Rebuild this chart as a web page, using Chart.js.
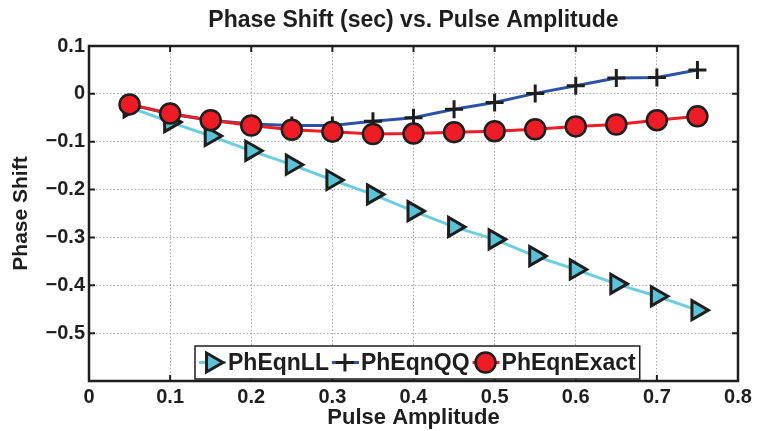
<!DOCTYPE html>
<html>
<head>
<meta charset="utf-8">
<script src="https://cdn.jsdelivr.net/npm/chart.js@4.4.1/dist/chart.umd.min.js"></script>
<style>
    html, body { margin: 0; padding: 0; background: #fff; }
    #wrap { width: 763px; height: 431px; }
</style>
</head>
<body>
<div id="wrap"><canvas id="phaseChart" width="763" height="431"></canvas></div>
<script>
// values
const amplitude = [0.05, 0.1, 0.15, 0.2, 0.25, 0.3, 0.35, 0.4, 0.45, 0.5, 0.55, 0.6, 0.65, 0.7, 0.75];
const phEqnLL = [-0.028, -0.059, -0.088, -0.119, -0.148, -0.180, -0.210, -0.245, -0.278, -0.304, -0.339, -0.367, -0.397, -0.423, -0.452];
const phEqnQQ = [-0.022, -0.042, -0.055, -0.063, -0.066, -0.066, -0.057, -0.050, -0.032, -0.018, 0.001, 0.017, 0.033, 0.034, 0.050];
const phEqnExact = [-0.022, -0.041, -0.055, -0.066, -0.075, -0.079, -0.084, -0.083, -0.080, -0.078, -0.074, -0.068, -0.064, -0.055, -0.047];
const legendLabels = ['PhEqnLL', 'PhEqnQQ', 'PhEqnExact'];
const xTickValues = [0, 0.1, 0.2, 0.3, 0.4, 0.5, 0.6, 0.7, 0.8];
const yTickValues = [0.1, 0, -0.1, -0.2, -0.3, -0.4, -0.5, -0.6];
const chartTitle = 'Phase Shift (sec) vs. Pulse Amplitude';

const FONT = '"Liberation Sans", Arial, sans-serif';
const INK = '#1e1e1e';

function toPoints(values) {
    return amplitude.map((a, i) => ({ x: a, y: values[i] }));
}

function fmtTick(v) {
    const r = Math.round(v * 10) / 10;
    if (r === 0) return '0';
    return (r < 0 ? '\u2212' : '') + Math.abs(r).toFixed(1);
}

// marker shapes for the legend
function drawMarker(ctx, style, x, y, ds) {
    ctx.save();
    ctx.lineWidth = ds.pointBorderWidth;
    ctx.strokeStyle = ds.pointBorderColor;
    ctx.fillStyle = ds.pointBackgroundColor || ds.pointBorderColor;
    const r = ds.pointRadius;
    ctx.beginPath();
    if (style === 'triangle') {
        ctx.moveTo(x + r, y);
        ctx.lineTo(x - r / 2, y - r * Math.sqrt(3) / 2);
        ctx.lineTo(x - r / 2, y + r * Math.sqrt(3) / 2);
        ctx.closePath();
        ctx.fill();
        ctx.stroke();
    } else if (style === 'cross') {
        ctx.moveTo(x - r, y); ctx.lineTo(x + r, y);
        ctx.moveTo(x, y - r); ctx.lineTo(x, y + r);
        ctx.stroke();
    } else {
        ctx.arc(x, y, r, 0, Math.PI * 2);
        ctx.fill();
        ctx.stroke();
    }
    ctx.restore();
}

const framePlugin = {
    id: 'frame',
    afterDatasetsDraw(chart) {
        const { ctx, chartArea: a, scales } = chart;
        ctx.save();
        ctx.strokeStyle = INK;
        ctx.lineWidth = 2;
        ctx.beginPath();
        xTickValues.forEach(v => {
            const px = scales.x.getPixelForValue(v);
            ctx.moveTo(px, a.bottom); ctx.lineTo(px, a.bottom - 6);
            ctx.moveTo(px, a.top); ctx.lineTo(px, a.top + 6);
        });
        yTickValues.forEach(v => {
            const py = scales.y.getPixelForValue(v);
            ctx.moveTo(a.left, py); ctx.lineTo(a.left + 6, py);
            ctx.moveTo(a.right, py); ctx.lineTo(a.right - 6, py);
        });
        ctx.stroke();
        ctx.lineWidth = 2.5;
        ctx.strokeRect(a.left, a.top, a.right - a.left, a.bottom - a.top);
        ctx.restore();
    },
    afterDraw(chart) {
        const ctx = chart.ctx;
        const a = chart.chartArea;
        const sets = chart.data.datasets;

        // title, centred over the plot area
        ctx.save();
        ctx.font = 'bold 23px ' + FONT;
        ctx.fillStyle = INK;
        ctx.textAlign = 'center';
        ctx.textBaseline = 'alphabetic';
        ctx.fillText(chartTitle, (a.left + a.right) / 2, 27);
        ctx.restore();

        // legend box inside the plot
        const top = 346, bottom = 379, midY = (top + bottom) / 2;
        const left = 195;
        ctx.save();
        ctx.font = 'bold 23px ' + FONT;
        let x = left + 4;
        const items = [];
        legendLabels.forEach((label, i) => {
            items.push({ x: x, label: label, ds: sets[i] });
            x += 29 + ctx.measureText(label).width + 3;
        });
        const right = x + 1;
        ctx.fillStyle = '#fff';
        ctx.fillRect(left, top, right - left, bottom - top);
        ctx.strokeStyle = INK;
        ctx.lineWidth = 1.5;
        ctx.strokeRect(left, top, right - left, bottom - top);
        items.forEach(it => {
            ctx.strokeStyle = it.ds.borderColor;
            ctx.lineWidth = it.ds.borderWidth;
            ctx.beginPath();
            ctx.moveTo(it.x, midY); ctx.lineTo(it.x + 27, midY);
            ctx.stroke();
            drawMarker(ctx, it.ds.pointStyle, it.x + 13, midY, it.ds);
            ctx.fillStyle = INK;
            ctx.textBaseline = 'middle';
            ctx.textAlign = 'left';
            ctx.fillText(it.label, it.x + 29, midY + 1);
        });
        ctx.restore();
    }
};

const phaseCtx = document.getElementById('phaseChart');
const phaseChart = new Chart(phaseCtx, {
    type: 'line',
    data: {
        datasets: [{
            label: legendLabels[0],
            data: toPoints(phEqnLL),
            borderColor: '#6dcde0',
            borderWidth: 3,
            pointStyle: 'triangle',
            pointRotation: 90,
            pointRadius: 11,
            pointBackgroundColor: '#5bc3d7',
            pointBorderColor: INK,
            pointBorderWidth: 3,
            order: 2
        }, {
            label: legendLabels[1],
            data: toPoints(phEqnQQ),
            borderColor: '#2b52a6',
            borderWidth: 3,
            pointStyle: 'cross',
            pointRadius: 9,
            pointBorderColor: INK,
            pointBorderWidth: 3,
            order: 1
        }, {
            label: legendLabels[2],
            data: toPoints(phEqnExact),
            borderColor: '#ee1c25',
            borderWidth: 3,
            pointStyle: 'circle',
            pointRadius: 10,
            pointBackgroundColor: '#ee1c25',
            pointBorderColor: INK,
            pointBorderWidth: 2.5,
            order: 0
        }]
    },
    options: {
        responsive: false,
        animation: false,
        events: [],
        clip: false,
        layout: { padding: { left: 0, right: 25, top: 46, bottom: 0 } },
        plugins: {
            legend: { display: false },
            tooltip: { enabled: false },
            title: { display: false }
        },
        scales: {
            x: {
                type: 'linear',
                min: 0,
                max: 0.8,
                afterBuildTicks: s => { s.ticks = xTickValues.map(v => ({ value: v })); },
                afterFit: s => { s.height = 50; },
                ticks: {
                    color: INK,
                    padding: 4,
                    maxRotation: 0,
                    font: { family: FONT, size: 20, weight: 'bold' },
                    callback: v => fmtTick(v)
                },
                grid: { color: '#a8a8a8', lineWidth: 1, drawTicks: false },
                border: { display: false, dash: [1.5, 2] },
                title: {
                    display: true,
                    text: 'Pulse Amplitude',
                    color: INK,
                    font: { family: FONT, size: 22, weight: 'bold' },
                    padding: { top: 0, bottom: 0 }
                }
            },
            y: {
                type: 'linear',
                min: -0.6,
                max: 0.1,
                afterBuildTicks: s => { s.ticks = yTickValues.map(v => ({ value: v })); },
                afterFit: s => { s.width = 89; },
                ticks: {
                    color: INK,
                    padding: 4,
                    font: { family: FONT, size: 20, weight: 'bold' },
                    callback: v => (Math.abs(v + 0.6) < 1e-6 ? '' : fmtTick(v))
                },
                grid: { color: '#a8a8a8', lineWidth: 1, drawTicks: false },
                border: { display: false, dash: [1.5, 2] },
                title: {
                    display: true,
                    text: 'Phase Shift',
                    color: INK,
                    font: { family: FONT, size: 21, weight: 'bold' },
                    padding: { top: 9, bottom: 0 }
                }
            }
        }
    },
    plugins: [framePlugin]
});
</script>
</body>
</html>
